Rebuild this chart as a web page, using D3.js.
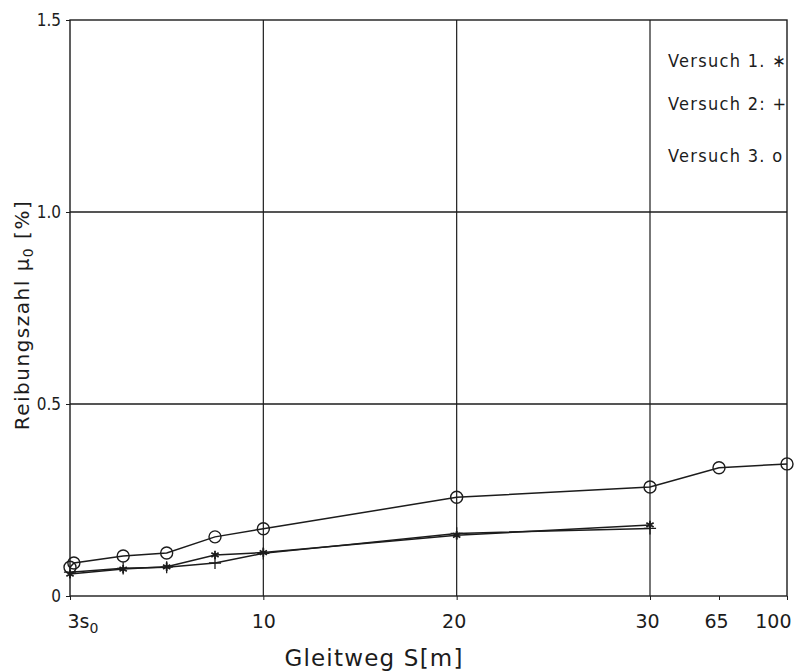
<!DOCTYPE html>
<html><head><meta charset="utf-8">
<script src="https://cdn.jsdelivr.net/npm/d3@7"></script>
<style>
body{margin:0;background:#fff;}
</style></head>
<body><svg id="c" width="806" height="672"></svg>
<script>
// data
const xPositions = [0, 2.75, 5, 7.5, 10, 20, 30];
const versuch1 = [0.057, 0.070, 0.076, 0.107, 0.113, 0.158, 0.185]; // *
const versuch2 = [0.062, 0.072, 0.075, 0.086, 0.111, 0.163, 0.176]; // +
const xPositions3 = [0, 0.2, 2.75, 5, 7.5, 10, 20, 30, 65, 100];
const versuch3 = [0.075, 0.086, 0.104, 0.112, 0.154, 0.175, 0.257, 0.284, 0.334, 0.344]; // o
const xTicks = [0, 10, 20, 30, 65, 100];
const xTickLabels = ["3s", "10", "20", "30", "65", "100"];
const xGrid = [10, 20, 30];
const yTicks = [0, 0.5, 1.0, 1.5];
const yTickLabels = ["0", "0.5", "1.0", "1.5"];
const legendLabels = ["Versuch 1. \u2217", "Versuch 2: +", "Versuch 3. o"];

const svg = d3.select("#c");
const L = 70, R = 787, T = 20, B = 596;
const x = d3.scaleLinear().domain([0, 30, 65, 100]).range([L, 650, 719, R]);
const y = d3.scaleLinear().domain([0, 1.5]).range([B, T]);

const ink = "#1c1c1c";
// grid
svg.append("g").selectAll("line").data(xGrid).join("line")
  .attr("x1", d => x(d)).attr("x2", d => x(d)).attr("y1", T).attr("y2", B)
  .attr("stroke", ink).attr("stroke-width", 1.2);
svg.append("g").selectAll("line").data([0.5, 1.0]).join("line")
  .attr("x1", L).attr("x2", R).attr("y1", d => y(d)).attr("y2", d => y(d))
  .attr("stroke", ink).attr("stroke-width", 1.4);
// frame
svg.append("rect").attr("x", L).attr("y", T).attr("width", R - L).attr("height", B - T)
  .attr("fill", "none").attr("stroke", ink).attr("stroke-width", 1.4);

// y axis
const yAxis = d3.axisLeft(y).tickValues(yTicks).tickFormat((d, i) => yTickLabels[i]).tickSize(4).tickPadding(5);
const gy = svg.append("g").attr("transform", `translate(${L},0)`).call(yAxis);
gy.select(".domain").remove();
gy.selectAll("line").attr("stroke", ink);
gy.selectAll("text").attr("font-family", "'Liberation Sans Narrow','DejaVu Sans Condensed',sans-serif")
  .style("font-stretch", "condensed").attr("font-size", 17).attr("fill", ink);

// x axis
const xAxis = d3.axisBottom(x).tickValues(xTicks).tickFormat("").tickSize(4);
const gx = svg.append("g").attr("transform", `translate(0,${B})`).call(xAxis);
gx.select(".domain").remove();
gx.selectAll("line").attr("stroke", ink);
gx.selectAll(".tick").append("text")
  .attr("y", 32).attr("font-family", "'DejaVu Sans',sans-serif").attr("font-size", 19)
  .attr("fill", ink)
  .attr("text-anchor", (d, i) => i === 0 ? "start" : (i === xTicks.length - 1 ? "end" : "middle"))
  .attr("dx", (d, i) => i === 0 ? -3 : (i === xTicks.length - 1 ? 4 : (i >= 2 ? -3 : 0)))
  .each(function(d, i) {
    const t = d3.select(this);
    t.text(xTickLabels[i]);
    if (i === 0) t.append("tspan").attr("font-size", 14).attr("dy", 5).text("0");
  });

// axis titles
svg.append("text").attr("x", 374).attr("y", 666).attr("text-anchor", "middle")
  .attr("font-family", "'DejaVu Sans',sans-serif").attr("font-size", 23).attr("fill", ink)
  .attr("letter-spacing", 1.2)
  .text("Gleitweg S[m]");
const yt = svg.append("text").attr("transform", "translate(29,315) rotate(-90)").attr("text-anchor", "middle")
  .attr("font-family", "'DejaVu Sans',sans-serif").attr("font-size", 20).attr("fill", ink)
  .attr("letter-spacing", 1.5);
yt.append("tspan").text("Reibungszahl \u03bc");
yt.append("tspan").attr("font-size", 14).attr("dy", 4).text("0");
yt.append("tspan").attr("dy", -4).text(" [%]");

// lines
const line = d3.line().x(d => x(d[0])).y(d => y(d[1]));
const s1 = xPositions.map((v, i) => [v, versuch1[i]]);
const s2 = xPositions.map((v, i) => [v, versuch2[i]]);
const s3 = xPositions3.map((v, i) => [v, versuch3[i]]);
[s1, s2, s3].forEach(s => svg.append("path").attr("d", line(s)).attr("fill", "none")
  .attr("stroke", ink).attr("stroke-width", 1.5));

// markers
svg.append("g").selectAll("path").data(s1).join("path")
  .attr("transform", d => `translate(${x(d[0])},${y(d[1])})`)
  .attr("d", d3.symbol(d3.symbolAsterisk, 50)).attr("fill", "none").attr("stroke", ink).attr("stroke-width", 1.8);
svg.append("g").selectAll("path").data(s2).join("path")
  .attr("transform", d => `translate(${x(d[0])},${y(d[1])})`)
  .attr("d", d3.symbol(d3.symbolPlus, 50)).attr("fill", "none").attr("stroke", ink).attr("stroke-width", 1.3);
svg.append("g").selectAll("circle").data(s3).join("circle")
  .attr("cx", d => x(d[0])).attr("cy", d => y(d[1])).attr("r", 6)
  .attr("fill", "none").attr("stroke", ink).attr("stroke-width", 1.4);

// legend
svg.append("g").selectAll("text").data(legendLabels).join("text")
  .attr("x", 668).attr("y", (d, i) => [67, 110, 162][i])
  .attr("font-family", "'Liberation Sans Narrow','DejaVu Sans Condensed',sans-serif")
  .style("font-stretch", "condensed").attr("font-size", 18).attr("fill", ink)
  .attr("letter-spacing", 1.3)
  .text(d => d);
</script></body></html>
